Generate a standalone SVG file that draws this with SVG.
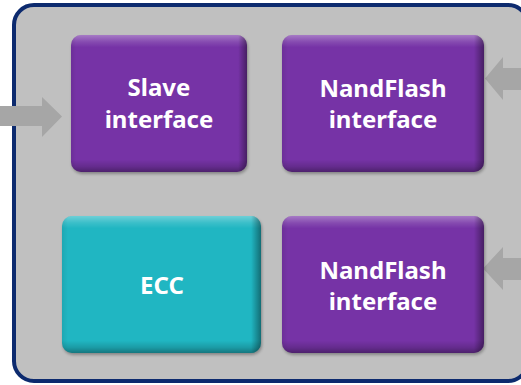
<svg xmlns="http://www.w3.org/2000/svg" width="521" height="385" viewBox="0 0 521 385">
<style>
.lbl{font-family:"Noto Sans","Liberation Sans",sans-serif;font-weight:bold;font-size:24px;fill:#ffffff;text-anchor:middle}
.arrow{fill:#a6a6a6}
.purple{fill:#7633a6}
.teal{fill:#20b6c2}
</style>
<defs>
<linearGradient id="gv" x1="0" y1="0" x2="0" y2="1">
<stop offset="0" stop-color="#ffffff" stop-opacity="0.35"/>
<stop offset="0.05" stop-color="#ffffff" stop-opacity="0.12"/>
<stop offset="0.09" stop-color="#ffffff" stop-opacity="0"/>
<stop offset="0.91" stop-color="#000000" stop-opacity="0"/>
<stop offset="0.96" stop-color="#000000" stop-opacity="0.15"/>
<stop offset="1" stop-color="#000000" stop-opacity="0.35"/>
</linearGradient>
<linearGradient id="gh" x1="0" y1="0" x2="1" y2="0">
<stop offset="0" stop-color="#000000" stop-opacity="0.08"/>
<stop offset="0.03" stop-color="#000000" stop-opacity="0"/>
<stop offset="0.95" stop-color="#000000" stop-opacity="0"/>
<stop offset="1" stop-color="#000000" stop-opacity="0.4"/>
</linearGradient>
<filter id="sh" x="-10%" y="-10%" width="120%" height="130%">
<feGaussianBlur stdDeviation="1.5"/>
</filter>
</defs>
<rect x="14" y="5" width="514" height="376" rx="20" ry="20" fill="#c0c0c0" stroke="#0c2a6e" stroke-width="4"/>
<g id="connectors">
<polygon class="arrow" points="0,106 42,106 42,97 62,116.5 42,137 42,126 0,126"/>
<polygon class="arrow" points="521,68 503,68 503,57 485,78.5 503,100 503,90 521,90"/>
<polygon class="arrow" points="521,258 503,258 503,247 483,268.5 503,290 503,280 521,280"/>
</g>
<g id="slave">
<rect x="72" y="37" width="176" height="137" rx="10" fill="#000" opacity="0.3" filter="url(#sh)"/>
<rect class="purple" x="71" y="35" width="176" height="137" rx="10"/>
<rect x="71" y="35" width="176" height="137" rx="10" fill="url(#gv)"/>
<rect x="71" y="35" width="176" height="137" rx="10" fill="url(#gh)"/>
<text class="lbl" x="159" y="96">Slave</text>
<text class="lbl" x="159" y="128">interface</text>
</g>
<g id="nand1">
<rect x="283" y="37" width="202" height="137" rx="10" fill="#000" opacity="0.3" filter="url(#sh)"/>
<rect class="purple" x="282" y="35" width="202" height="137" rx="10"/>
<rect x="282" y="35" width="202" height="137" rx="10" fill="url(#gv)"/>
<rect x="282" y="35" width="202" height="137" rx="10" fill="url(#gh)"/>
<text class="lbl" x="383" y="97">NandFlash</text>
<text class="lbl" x="383" y="128">interface</text>
</g>
<g id="ecc">
<rect x="63" y="218" width="199" height="137" rx="10" fill="#000" opacity="0.3" filter="url(#sh)"/>
<rect class="teal" x="62" y="216" width="199" height="137" rx="10"/>
<rect x="62" y="216" width="199" height="137" rx="10" fill="url(#gv)"/>
<rect x="62" y="216" width="199" height="137" rx="10" fill="url(#gh)"/>
<text class="lbl" x="162" y="294">ECC</text>
</g>
<g id="nand2">
<rect x="283" y="218" width="202" height="137" rx="10" fill="#000" opacity="0.3" filter="url(#sh)"/>
<rect class="purple" x="282" y="216" width="202" height="137" rx="10"/>
<rect x="282" y="216" width="202" height="137" rx="10" fill="url(#gv)"/>
<rect x="282" y="216" width="202" height="137" rx="10" fill="url(#gh)"/>
<text class="lbl" x="383" y="279">NandFlash</text>
<text class="lbl" x="383" y="310">interface</text>
</g>
</svg>
